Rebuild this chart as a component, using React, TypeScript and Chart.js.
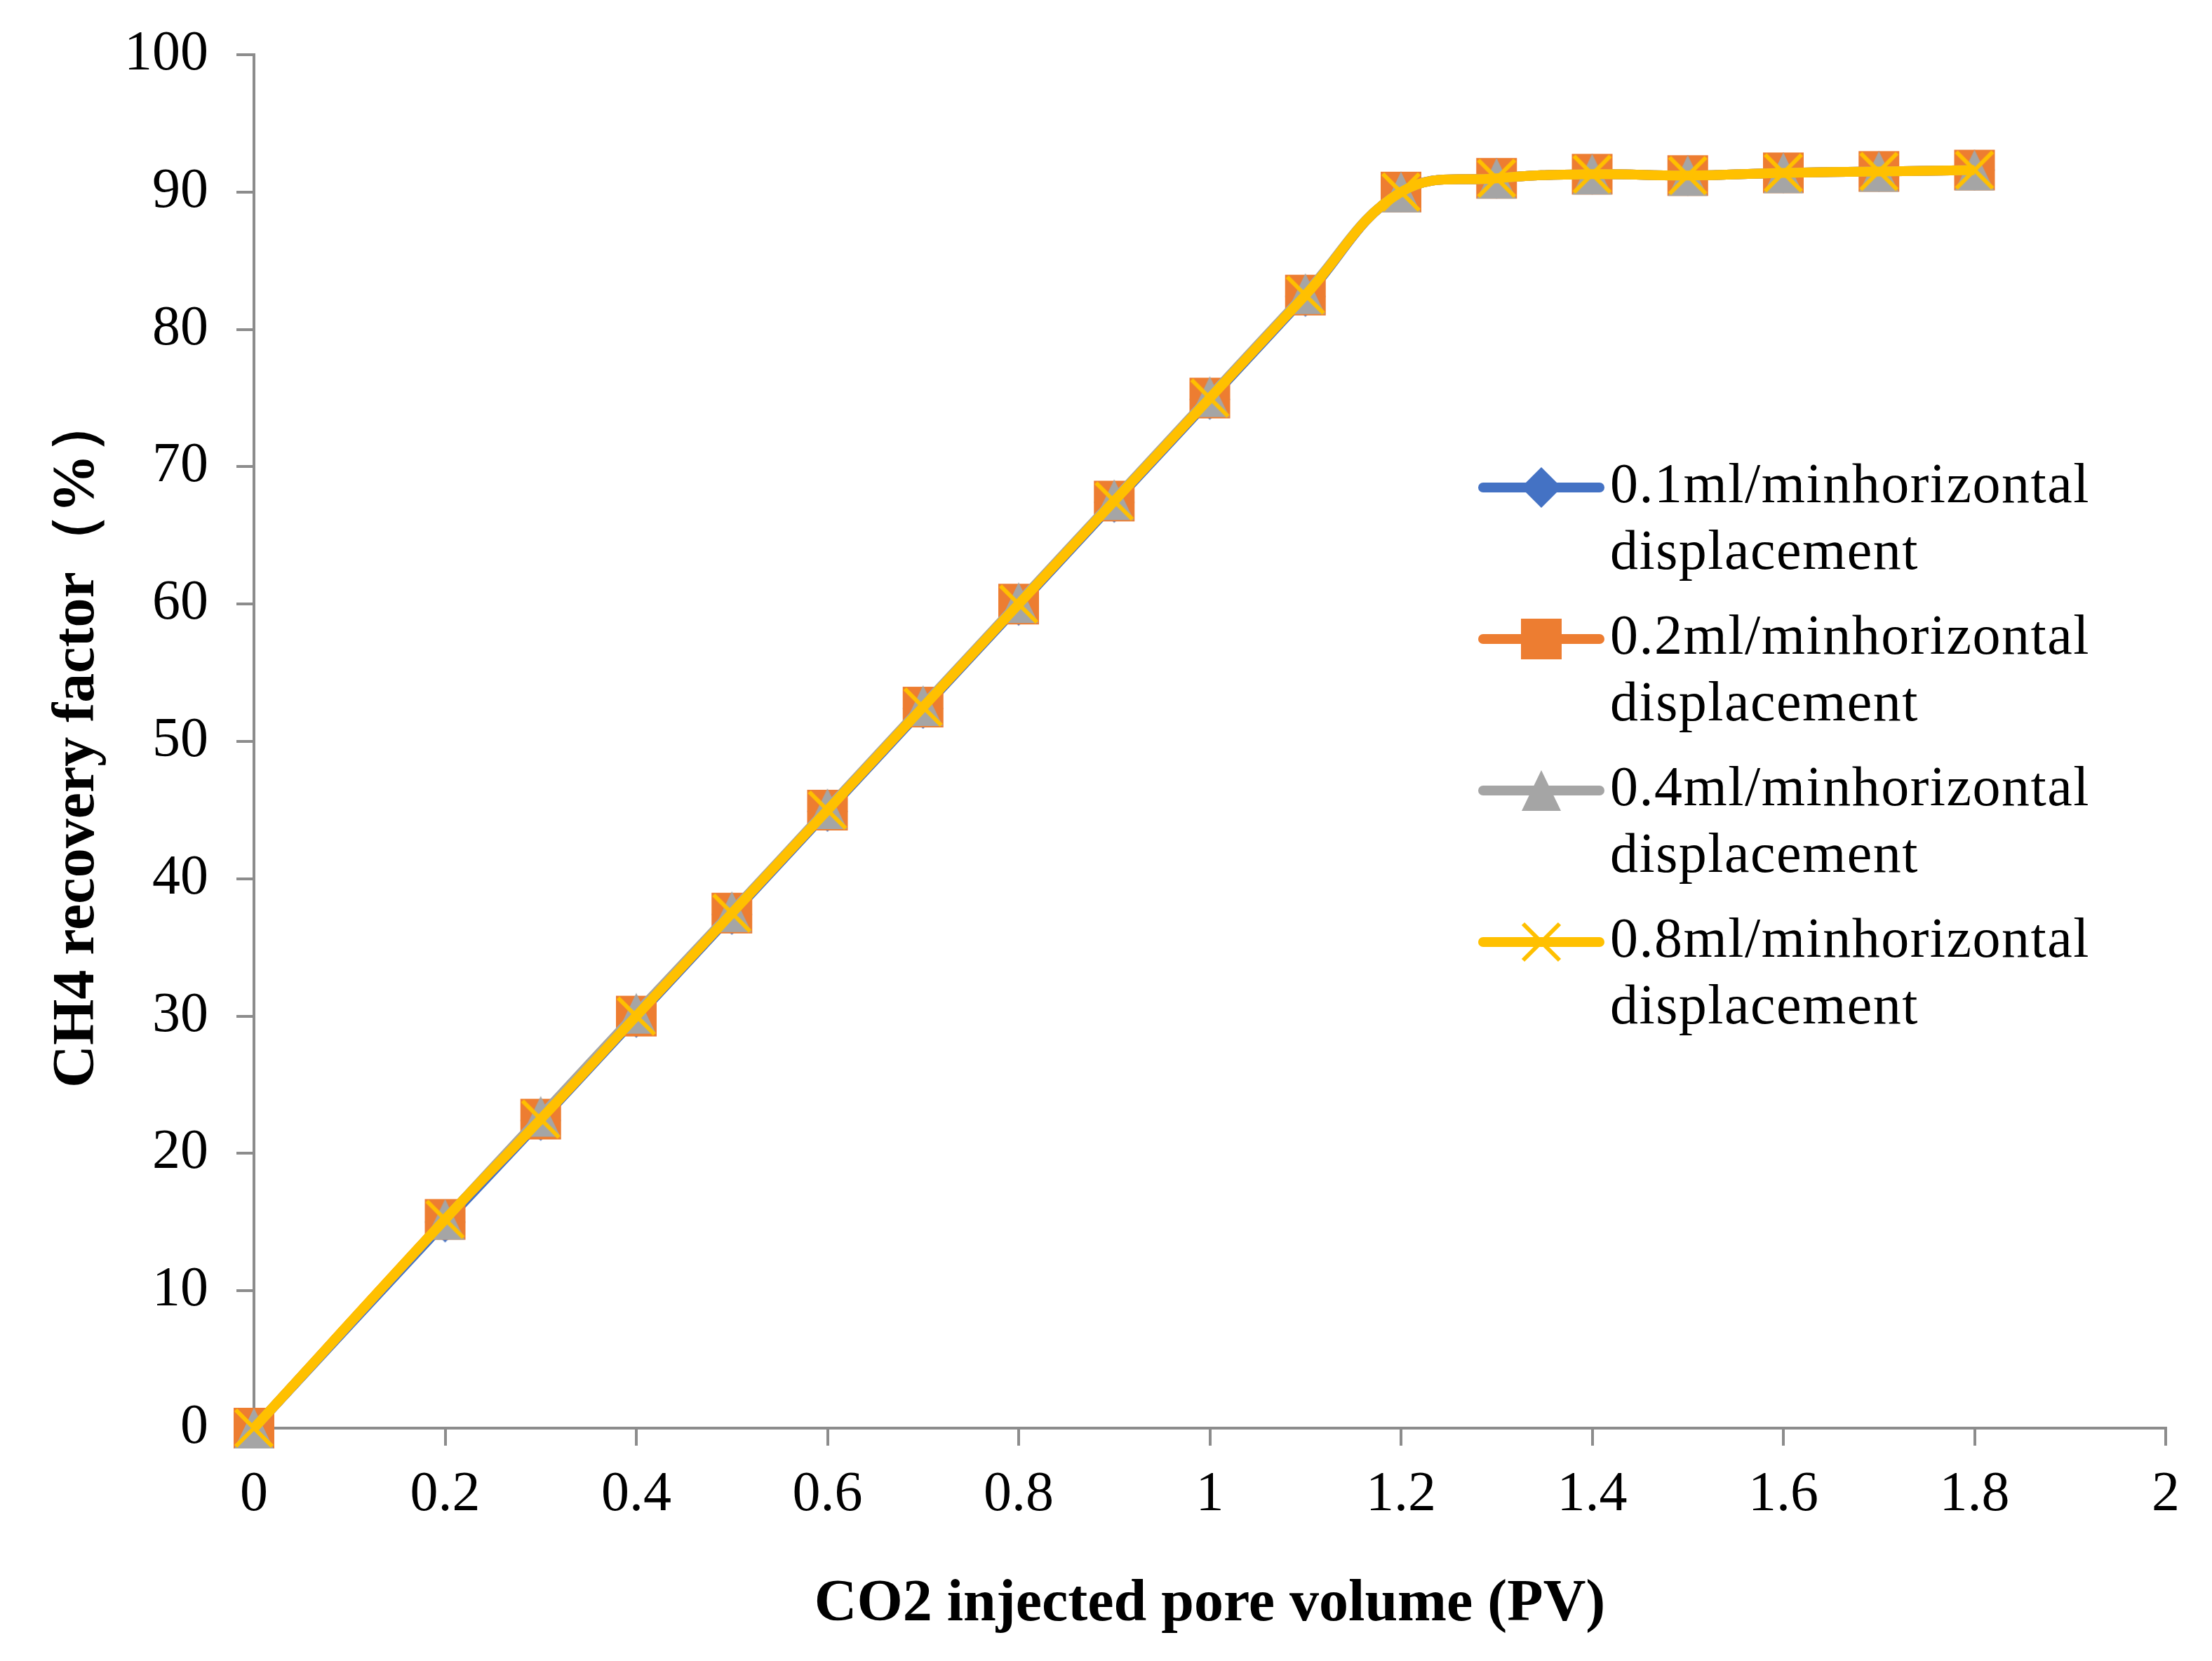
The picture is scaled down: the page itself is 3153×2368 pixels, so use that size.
import { useEffect, useRef } from 'react';
import { Chart, registerables } from 'chart.js';

Chart.register(...registerables);

const W = 3153;
const H = 2368;
const FONT = "'Liberation Serif', 'Times New Roman', serif";
const AXIS = '#8c8c8c';

// CO2 injected pore volume (PV)
const xValues = [0, 0.2, 0.3, 0.4, 0.5, 0.6, 0.7, 0.8, 0.9, 1.0, 1.1, 1.2, 1.3, 1.4, 1.5, 1.6, 1.7, 1.8];
// CH4 recovery factor (%)
const rate01 = [0, 15.0, 22.4, 29.9, 37.4, 44.9, 52.4, 59.9, 67.4, 74.9, 82.4, 90.0, 91.0, 91.3, 91.2, 91.4, 91.5, 91.6];
const rate02 = [0, 15.2, 22.5, 30.0, 37.5, 45.0, 52.5, 60.0, 67.5, 75.0, 82.5, 90.0, 91.0, 91.3, 91.2, 91.4, 91.5, 91.6];
const rate04 = [0, 15.2, 22.7, 30.2, 37.6, 45.1, 52.6, 60.1, 67.6, 75.1, 82.6, 90.0, 91.0, 91.3, 91.2, 91.4, 91.5, 91.6];
const rate08 = [0, 15.2, 22.5, 30.0, 37.5, 45.0, 52.5, 60.0, 67.5, 75.0, 82.5, 90.0, 91.0, 91.3, 91.2, 91.4, 91.5, 91.6];

const seriesLabels = [
  ['0.1ml/minhorizontal', 'displacement'],
  ['0.2ml/minhorizontal', 'displacement'],
  ['0.4ml/minhorizontal', 'displacement'],
  ['0.8ml/minhorizontal', 'displacement'],
];
const seriesColors = ['#4472C4', '#ED7D31', '#A5A5A5', '#FFC000'];
const seriesMarkers = ['diamond', 'square', 'triangle', 'cross'];

const xTicks = [0, 0.2, 0.4, 0.6, 0.8, 1, 1.2, 1.4, 1.6, 1.8, 2];
const yTicks = [0, 10, 20, 30, 40, 50, 60, 70, 80, 90, 100];

function makeMarker(kind: string, color: string) {
  const c = document.createElement('canvas');
  c.width = 62;
  c.height = 62;
  const g = c.getContext('2d')!;
  g.fillStyle = color;
  g.strokeStyle = color;
  g.beginPath();
  if (kind === 'diamond') {
    g.moveTo(31, 2); g.lineTo(60, 31); g.lineTo(31, 60); g.lineTo(2, 31); g.closePath(); g.fill();
  } else if (kind === 'square') {
    g.rect(2, 2, 58, 58); g.fill();
  } else if (kind === 'triangle') {
    g.moveTo(31, 2); g.lineTo(59, 60); g.lineTo(3, 60); g.closePath(); g.fill();
  } else {
    g.lineWidth = 6;
    g.moveTo(5, 5); g.lineTo(57, 57);
    g.moveTo(57, 5); g.lineTo(5, 57);
    g.stroke();
  }
  return c;
}

export default function App() {
  const canvasRef = useRef<HTMLCanvasElement>(null);
  const chartRef = useRef<Chart | null>(null);

  useEffect(() => {
    document.body.style.margin = '0';
    if (!canvasRef.current) return;
    const markers = seriesMarkers.map((m, i) => makeMarker(m, seriesColors[i]));
    const series = [rate01, rate02, rate04, rate08];

    const legendPlugin = {
      id: 'wrappedLegend',
      afterDatasetsDraw(chart: Chart) {
        const ctx = chart.ctx;
        ctx.save();
        seriesLabels.forEach((lines, i) => {
          const y = 695 + i * 216;
          ctx.strokeStyle = seriesColors[i];
          ctx.lineWidth = 14;
          ctx.lineCap = 'round';
          ctx.beginPath();
          ctx.moveTo(2114, y);
          ctx.lineTo(2280, y);
          ctx.stroke();
          const mk = markers[i];
          ctx.drawImage(mk, 2197 - mk.width / 2, y - mk.height / 2);
          ctx.fillStyle = '#000';
          ctx.font = `80px ${FONT}`;
          (ctx as any).letterSpacing = '1.5px';
          ctx.textBaseline = 'middle';
          ctx.textAlign = 'left';
          lines.forEach((t, j) => ctx.fillText(t, 2295, y + j * 95));
        });
        ctx.restore();
      },
    };

    chartRef.current?.destroy();
    chartRef.current = new Chart(canvasRef.current, {
      type: 'line',
      data: {
        datasets: series.map((vals, i) => ({
          label: seriesLabels[i].join(' '),
          data: xValues.map((x, k) => ({ x, y: vals[k] })),
          borderColor: seriesColors[i],
          backgroundColor: seriesColors[i],
          borderWidth: 14,
          tension: 0.4,
          pointStyle: markers[i],
          pointRadius: 30,
          clip: false,
          order: 4 - i,
        })),
      },
      options: {
        responsive: false,
        animation: false,
        devicePixelRatio: 1,
        events: [],
        layout: { padding: { top: 78, right: 66, bottom: 0, left: 0 } },
        plugins: { legend: { display: false }, tooltip: { enabled: false } },
        scales: {
          x: {
            type: 'linear',
            min: 0,
            max: 2,
            afterFit: (s: any) => { s.height = 332; },
            afterBuildTicks: (s: any) => { s.ticks = xTicks.map((value) => ({ value })); },
            ticks: {
              font: { family: FONT, size: 80 },
              color: '#000',
              padding: 23,
              maxRotation: 0,
              autoSkip: false,
              callback: (v: any) => String(v),
            },
            grid: { drawOnChartArea: false, drawTicks: true, tickLength: 25, color: AXIS, lineWidth: 4 },
            border: { color: AXIS, width: 4 },
            title: {
              display: true,
              text: 'CO2 injected pore volume (PV)',
              font: { family: FONT, size: 84, weight: 'bold' },
              color: '#000',
              padding: { top: 0, bottom: 29 },
            },
          },
          y: {
            type: 'linear',
            min: 0,
            max: 100,
            afterFit: (s: any) => { s.width = 362; s.paddingTop = 0; s.paddingBottom = 0; },
            afterBuildTicks: (s: any) => { s.ticks = yTicks.map((value) => ({ value })); },
            ticks: {
              font: { family: FONT, size: 80 },
              color: '#000',
              padding: 40,
              autoSkip: false,
              callback: (v: any) => String(v),
            },
            grid: { drawOnChartArea: false, drawTicks: true, tickLength: 25, color: AXIS, lineWidth: 4 },
            border: { color: AXIS, width: 4 },
            title: {
              display: true,
              text: 'CH4 recovery factor（%）',
              font: { family: FONT, size: 84, weight: 'bold' },
              color: '#000',
              padding: { top: 61, bottom: 0 },
            },
          },
        },
      },
      plugins: [legendPlugin],
    });
    return () => { chartRef.current?.destroy(); chartRef.current = null; };
  }, []);

  return (
    <div style={{ width: W, height: H, background: '#fff' }}>
      <canvas ref={canvasRef} width={W} height={H} style={{ display: 'block', width: W, height: H }} />
    </div>
  );
}
